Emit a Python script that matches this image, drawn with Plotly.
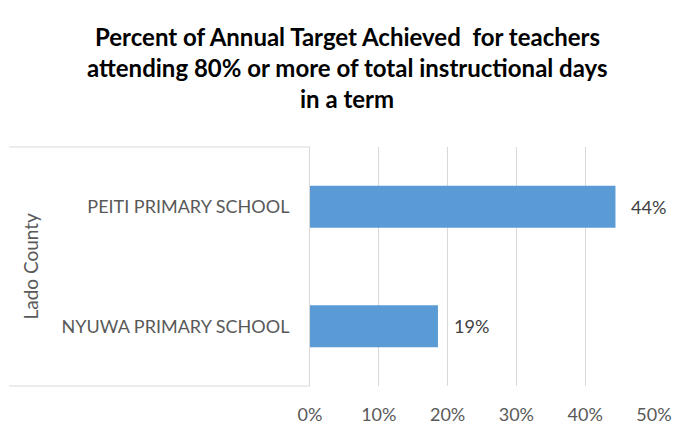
import plotly.graph_objects as go

# Data
schools = ["NYUWA PRIMARY SCHOOL", "PEITI PRIMARY SCHOOL"]
achieved = [0.186, 0.444]
county = "Lado County"
title_lines = [
    "Percent of Annual Target Achieved  for teachers",
    "attending 80% or more of total instructional days",
    "in a term",
]
x_ticks = [0, 0.1, 0.2, 0.3, 0.4, 0.5]

W, H = 694, 443
L, R, T, B = 310, 40, 147, 57
PW, PH = W - L - R, H - T - B

FONT = "Lato"
GRID = "#D9D9D9"
TXT = "#595959"


def px_x(px):
    return (px - L) / PW


def px_y(py):
    return (H - B - py) / PH


fig = go.Figure()
fig.add_trace(go.Bar(
    y=schools,
    x=achieved,
    orientation="h",
    marker=dict(color="#5B9BD5", line=dict(width=0)),
    hoverinfo="skip",
))

annotations = []
# value labels next to each bar
for s, v in zip(schools, achieved):
    annotations.append(dict(
        x=v, y=s, xref="x", yref="y", text=f"{v:.0%}",
        showarrow=False, xanchor="left", yanchor="middle", xshift=14,
        font=dict(family=FONT, size=18, color="#404040"),
    ))

# group label on the category axis
annotations.append(dict(
    x=px_x(30), y=0.5, xref="paper", yref="paper", text=county,
    textangle=-90, showarrow=False, xanchor="center", yanchor="middle",
    font=dict(family=FONT, size=19, color=TXT),
))

# title lines
for line, cy in zip(title_lines, [36, 67, 98]):
    annotations.append(dict(
        x=px_x(W / 2), y=px_y(cy), xref="paper", yref="paper", text=f"<b>{line}</b>",
        showarrow=False, xanchor="center", yanchor="middle",
        font=dict(family=FONT, size=24, color="#000000"),
    ))

# category axis box lines
shapes = [
    dict(type="line", xref="paper", yref="paper", x0=px_x(9), x1=0, y0=1, y1=1,
         line=dict(color=GRID, width=1)),
    dict(type="line", xref="paper", yref="paper", x0=px_x(9), x1=0, y0=0, y1=0,
         line=dict(color=GRID, width=1)),
]

fig.update_layout(
    width=W, height=H,
    margin=dict(l=L, r=R, t=T, b=B, pad=0),
    paper_bgcolor="white", plot_bgcolor="white",
    showlegend=False,
    bargap=0.65,
    annotations=annotations,
    shapes=shapes,
    xaxis=dict(
        range=[0, 0.5], tickvals=x_ticks, tickformat=".0%",
        showgrid=True, gridcolor=GRID, gridwidth=1,
        zeroline=False, showline=False,
        ticks="outside", ticklen=12, tickcolor="rgba(0,0,0,0)",
        tickfont=dict(family=FONT, size=18, color=TXT),
        fixedrange=True,
    ),
    yaxis=dict(
        showgrid=False, zeroline=False,
        showline=True, linecolor=GRID, linewidth=1,
        ticks="outside", ticklen=16, tickcolor="rgba(0,0,0,0)",
        tickfont=dict(family=FONT, size=18, color=TXT),
        fixedrange=True,
    ),
)

fig.write_html("out.html")
